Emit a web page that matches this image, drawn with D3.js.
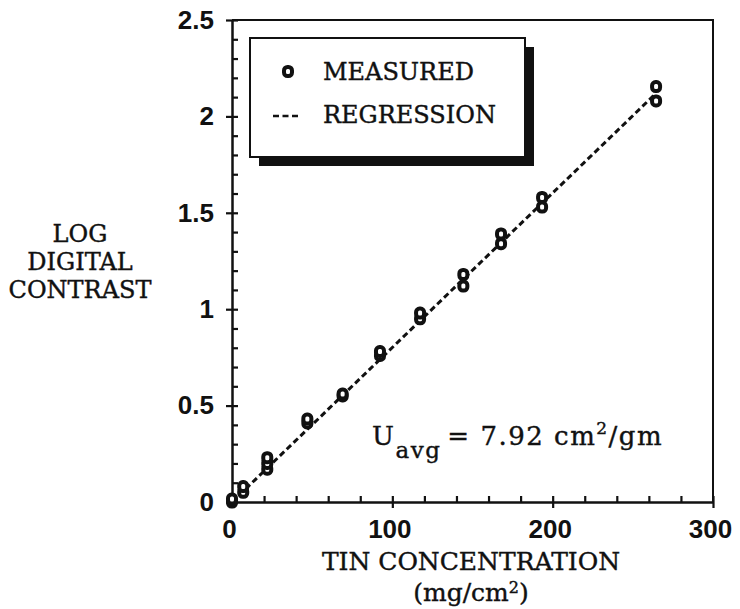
<!DOCTYPE html>
<html>
<head>
<meta charset="utf-8">
<script src="https://cdn.jsdelivr.net/npm/d3@7"></script>
<style>
  body { margin: 0; background: #fff; }
  .tick text { font-family: "Liberation Sans", Arial, sans-serif; font-weight: bold; font-size: 26px; fill: #111; }
  .serif { font-family: "DejaVu Serif", serif; font-size: 24px; fill: #111; stroke: #111; stroke-width: 0.4; }
</style>
</head>
<body>
<div id="plot"></div>
<script>
  // measured points, tin concentration (mg/cm2) vs log digital contrast
  const concentration = [0, 0, 7, 7, 22, 22, 22, 47, 47, 69, 69, 92.3, 92.3,
      117.3, 117.3, 144.3, 144.3, 167.8, 167.8, 193.4, 193.4, 264.5, 264.5];
  const contrast = [0, 0.015, 0.05, 0.08, 0.17, 0.2, 0.23, 0.41, 0.43, 0.55, 0.56,
      0.76, 0.78, 0.95, 0.98, 1.12, 1.18, 1.34, 1.39, 1.53, 1.58, 2.08, 2.155];

  // regression line end points
  const regX = [0, 264.5];
  const regY = [0, 2.12];

  const xTicks = [0, 100, 200, 300];
  const yTicks = [0, 0.5, 1, 1.5, 2, 2.5];
  const yTickLabels = ["0", "0.5", "1", "1.5", "2", "2.5"];

  const w = 740;
  const h = 609;
  const margin = {top: 20, right: 27, bottom: 107, left: 232};
  const innerwidth = w - margin.left - margin.right;
  const innerheight = h - margin.top - margin.bottom;

  const svg = d3.select("div#plot")
      .append("svg")
      .attr("width", w)
      .attr("height", h);

  const xScale = d3.scaleLinear()
      .domain([0, 300])
      .range([margin.left, margin.left + innerwidth]);

  const yScale = d3.scaleLinear()
      .domain([0, 2.5])
      .range([margin.top + innerheight, margin.top]);

  const x0 = xScale(0), y0 = yScale(0);

  // frame (top and right)
  svg.append("path")
      .attr("d", `M${x0},${yScale(2.5)} H${xScale(300)} V${y0}`)
      .attr("fill", "none")
      .attr("stroke", "#111")
      .attr("stroke-width", 2);

  // minor ticks, inside only
  svg.append("g")
      .attr("class", "minor")
      .attr("transform", `translate(0, ${y0})`)
      .call(d3.axisTop(xScale).tickValues(d3.range(0, 301, 20)).tickSize(6).tickFormat(""))
      .call(g => g.select(".domain").remove());

  svg.append("g")
      .attr("class", "minor")
      .attr("transform", `translate(${x0}, 0)`)
      .call(d3.axisRight(yScale).tickValues(d3.range(0, 26).map(d => d / 10)).tickSize(6).tickFormat(""))
      .call(g => g.select(".domain").remove());

  // major ticks crossing the axis
  svg.append("g")
      .attr("class", "xAxis")
      .attr("transform", `translate(0, ${y0})`)
      .call(d3.axisBottom(xScale).tickValues(xTicks).tickSize(6).tickPadding(8).tickSizeOuter(0));

  svg.append("g")
      .attr("class", "yAxis")
      .attr("transform", `translate(${x0}, 0)`)
      .call(d3.axisLeft(yScale).tickValues(yTicks).tickSize(6).tickPadding(12).tickSizeOuter(0)
          .tickFormat((d, i) => yTickLabels[i]));

  svg.selectAll(".xAxis .tick text").attr("dy", "0.85em").attr("dx", "-3");
  svg.selectAll(".tick line").attr("stroke", "#111").attr("stroke-width", 2.2);
  svg.selectAll(".domain").attr("stroke", "#111").attr("stroke-width", 2.5);

  // regression line
  svg.append("line")
      .attr("x1", xScale(regX[0])).attr("y1", yScale(regY[0]))
      .attr("x2", xScale(regX[1])).attr("y2", yScale(regY[1]))
      .attr("stroke", "#111")
      .attr("stroke-width", 3)
      .attr("stroke-dasharray", "6,3.5");

  // measured markers: rounded "0" shapes
  const marker = (sel) => sel
      .attr("width", 8)
      .attr("height", 9)
      .attr("rx", 3.5)
      .attr("fill", "#fff")
      .attr("stroke", "#111")
      .attr("stroke-width", 4);

  svg.append("g").selectAll("rect")
      .data(concentration)
      .enter().append("rect")
      .attr("x", d => xScale(d) - 4)
      .attr("y", (d, i) => yScale(contrast[i]) - 4.5)
      .call(marker);

  // legend box with shadow
  const lg = svg.append("g");
  lg.append("rect")
      .attr("x", 259).attr("y", 47).attr("width", 275).attr("height", 119)
      .attr("fill", "#111");
  lg.append("rect")
      .attr("x", 250).attr("y", 38).attr("width", 275).attr("height", 119)
      .attr("fill", "#fff").attr("stroke", "#111").attr("stroke-width", 2);
  lg.append("rect")
      .attr("x", 284).attr("y", 67)
      .call(marker);
  lg.append("line")
      .attr("x1", 273).attr("x2", 298).attr("y1", 116).attr("y2", 116)
      .attr("stroke", "#111").attr("stroke-width", 2.5)
      .attr("stroke-dasharray", "6,3.5");
  lg.append("text").attr("class", "serif")
      .attr("x", 323).attr("y", 80).text("MEASURED");
  lg.append("text").attr("class", "serif")
      .attr("x", 323).attr("y", 123).text("REGRESSION");

  // annotation
  const ann = svg.append("text").attr("class", "serif")
      .attr("x", 372).attr("y", 445)
      .style("font-size", "26px")
      .style("letter-spacing", "1.5px");
  ann.append("tspan").text("U");
  ann.append("tspan").attr("dy", 13).style("font-size", "23px").text("avg");
  ann.append("tspan").attr("dy", -13).attr("dx", 6).text("= 7.92 cm");
  ann.append("tspan").attr("dy", -11).style("font-size", "17px").text("2");
  ann.append("tspan").attr("dy", 11).text("/gm");

  // axis titles
  svg.append("text").attr("class", "serif")
      .attr("x", 471).attr("y", 570)
      .attr("text-anchor", "middle")
      .style("font-size", "25px")
      .text("TIN CONCENTRATION");

  const unit = svg.append("text").attr("class", "serif")
      .attr("x", 471).attr("y", 601)
      .attr("text-anchor", "middle")
      .style("font-size", "25px");
  unit.append("tspan").text("(mg/cm");
  unit.append("tspan").attr("dy", -8).style("font-size", "16px").text("2");
  unit.append("tspan").attr("dy", 8).text(")");

  const ylab = ["LOG", "DIGITAL", "CONTRAST"];
  svg.append("g").selectAll("text")
      .data(ylab)
      .enter().append("text")
      .attr("class", "serif")
      .attr("x", 80)
      .attr("y", (d, i) => 242 + i * 28)
      .attr("text-anchor", "middle")
      .text(d => d);
</script>
</body>
</html>
